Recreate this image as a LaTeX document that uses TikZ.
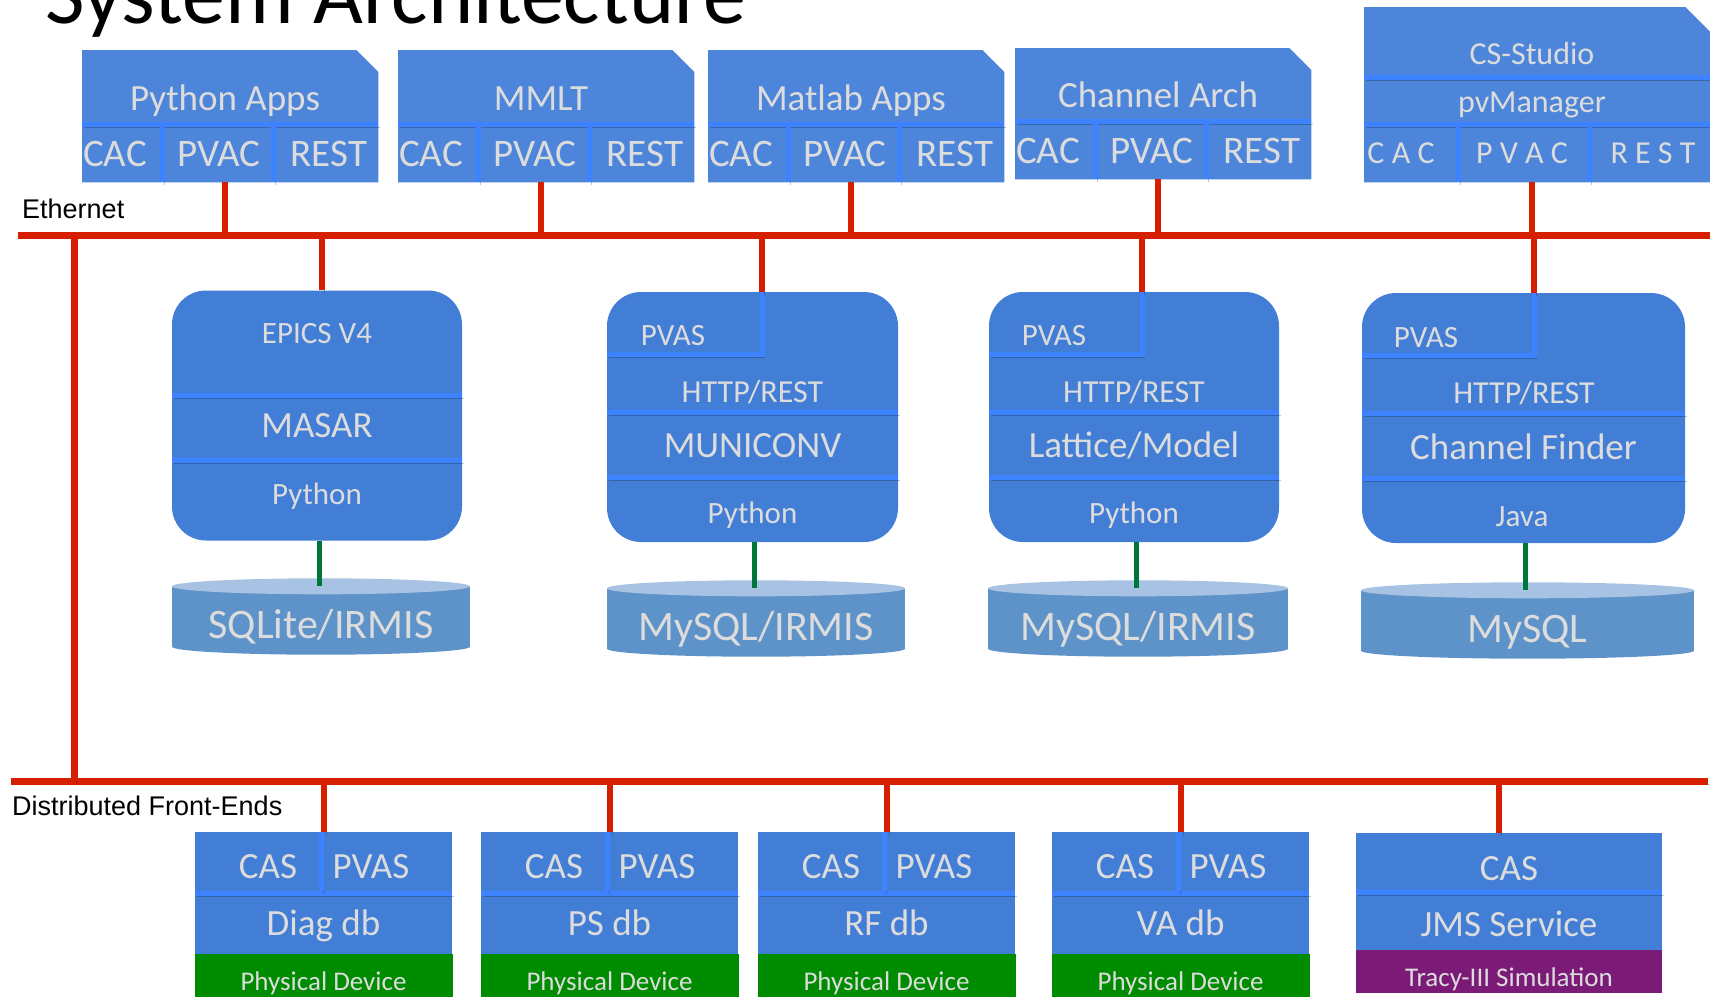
\documentclass[tikz,border=0pt]{standalone}
\usepackage{fontspec}
\setmainfont{Carlito}
\newfontfamily\arialfont{Liberation Sans}
\usetikzlibrary{positioning}

\definecolor{appblue}{HTML}{4C85DA}
\definecolor{boxblue}{HTML}{427ED6}
\definecolor{sepblue}{HTML}{3D82FF}
\definecolor{txtgray}{HTML}{DCDCDC}
\definecolor{busred}{HTML}{D61F00}
\definecolor{linkgreen}{HTML}{00773A}
\definecolor{devgreen}{HTML}{008C00}
\definecolor{simpurple}{HTML}{7B1B77}
\definecolor{dbblue}{HTML}{5E93C9}
\definecolor{dbtop}{HTML}{A7C2E2}

\begin{document}
\begin{tikzpicture}[x=1pt, y=-1pt,
  lbl/.style={text=txtgray, inner sep=0pt, anchor=base, font=\fontsize{#1}{#1}\selectfont},
  shd/.style={preaction={draw=black, draw opacity=.22, transform canvas={shift={(2pt,-3pt)}}}},
  bus/.style={draw=busred, line width=7pt, shd},
  drop/.style={bus, line width=6pt},
  sep/.style={draw=sepblue, line width=5pt, shd},
  link/.style={draw=linkgreen, line width=5pt},
  app/.style={inner sep=0pt, minimum width=296pt, anchor=north west},
  mid/.style={fill=boxblue, rounded corners=34pt, minimum width=290pt, minimum height=250pt, inner sep=0pt},
  fe/.style={fill=boxblue, minimum width=257pt, minimum height=122pt, anchor=north west, inner sep=0pt},
  db/.style={fill=dbblue, inner sep=0pt, minimum height=60pt},
  bar/.style={font=\arialfont\fontsize{27}{29}\selectfont, anchor=base west, inner sep=0pt}
]
\useasboundingbox (0,0) rectangle (1710,997);

% bus end points
\coordinate (eth) at (18,235);
\coordinate (eth-end) at (1712,235);
\coordinate (fe) at (11,781);
\coordinate (fe-end) at (1708,781);
\coordinate (trunk-top) at (74,235);
\coordinate (trunk-bot) at (74,781);

\node[anchor=base west, inner sep=0pt, font=\fontsize{86}{92}\selectfont] (title) at (45,23) {System Architecture};

% client applications
\foreach \L/\T/\B/\nm/\lab in {82/50/182/pyapps/Python Apps, 398/50/182/mmlt/MMLT,
    708/50/182/matlab/Matlab Apps, 1015/48/179/arch/Channel Arch} {
  \node[app, minimum height=\B-\T] (\nm) at (\L,\T) {};
  \fill[appblue] (\nm.north west) -- ([xshift=-22pt]\nm.north east) -- ([yshift=-22pt]\nm.north east)
    -- (\nm.south east) -- (\nm.south west) -- cycle;
  \draw[sep] (\L,\B-58) -- ++(296,0);
  \draw[sep] (\L+80,\B-56) -- (\L+80,\B);
  \draw[sep] (\L+191,\B-56) -- (\L+191,\B);
  \node[lbl=37] (\nm-title) at (\L+143,\B-72) {\lab};
  \node[lbl=39] (\nm-cac) at (\L+33,\B-16) {CAC};
  \node[lbl=39] (\nm-pvac) at (\L+137,\B-16) {PVAC};
  \node[lbl=39] (\nm-rest) at (\L+247,\B-16) {REST};
  \draw[drop] (\nm-title |- \nm.south) -- (\nm-title |- eth);
}

% CS-Studio
\node[app, minimum width=348pt, minimum height=175pt] (css) at (1364,7) {};
\fill[appblue] (css.north west) -- ([xshift=-27pt]css.north east) -- ([yshift=-27pt]css.north east)
  -- (css.south east) -- (css.south west) -- cycle;
\draw[sep] (1364,77) -- (1712,77);
\draw[sep] (1364,124) -- (1712,124);
\draw[sep] (1458,126) -- (1458,182);
\draw[sep] (1589,126) -- (1589,182);
\node[lbl=32] (css-title) at (1532,64) {CS-Studio};
\node[lbl=32] (css-pvm) at (1532,112) {pvManager};
\node[lbl=32] (css-cac) at (1401,163) {C A C};
\node[lbl=32] (css-pvac) at (1522,163) {P V A C};
\node[lbl=32] (css-rest) at (1653,163) {R E S T};
\draw[drop] (css-title |- css.south) -- (css-title |- eth);

% services
\node[mid] (masar) at (317,415.5) {};
\node[mid, minimum width=291pt] (municonv) at (752.5,417) {};
\node[mid] (lattice) at (1134,417) {};
\node[mid, minimum width=323pt] (finder) at (1523.5,418) {};

\draw[sep] (172,395) -- (462,395);
\draw[sep] (172,460) -- (462,460);
\node[lbl=31] (masar-v4) at (317,343) {EPICS V4};
\node[lbl=37] (masar-name) at (317,437) {MASAR};
\node[lbl=31] (masar-lang) at (317,504) {Python};

\coordinate (municonv-pv) at (762,292);
\draw[sep] (607,354) -| (municonv-pv);
\draw[sep] (607,412) -- (898,412);
\draw[sep] (607,477) -- (898,477);
\node[lbl=31] (municonv-pvas) at (673,345) {PVAS};
\node[lbl=32] (municonv-http) at (752.5,402) {HTTP/REST};
\node[lbl=37] (municonv-name) at (752.5,457) {MUNICONV};
\node[lbl=31] (municonv-lang) at (752.5,523) {Python};

\coordinate (lattice-pv) at (1142,292);
\draw[sep] (989,354) -| (lattice-pv);
\draw[sep] (989,412) -- (1279,412);
\draw[sep] (989,477) -- (1279,477);
\node[lbl=31] (lattice-pvas) at (1054,345) {PVAS};
\node[lbl=32] (lattice-http) at (1134,402) {HTTP/REST};
\node[lbl=37] (lattice-name) at (1134,457) {Lattice/Model};
\node[lbl=31] (lattice-lang) at (1134,523) {Python};

\coordinate (finder-pv) at (1534,293);
\draw[sep] (1362,355) -| (finder-pv);
\draw[sep] (1362,413) -- (1685,413);
\draw[sep] (1362,478) -- (1685,478);
\node[lbl=31] (finder-pvas) at (1426,347) {PVAS};
\node[lbl=32] (finder-http) at (1524,403) {HTTP/REST};
\node[lbl=37] (finder-name) at (1523.5,459) {Channel Finder};
\node[lbl=31] (finder-lang) at (1522,526) {Java};

\draw[drop] ([xshift=5pt]masar.north) -- ([xshift=5pt]masar.north |- eth);
\draw[drop] (municonv-pv) -- (municonv-pv |- eth);
\draw[drop] (lattice-pv) -- (lattice-pv |- eth);
\draw[drop] (finder-pv) -- (finder-pv |- eth);

% databases
\foreach \nm/\cx/\cy/\w/\lab/\svc in {sqlite/321/616.5/298/SQLite\slash IRMIS/masar,
    municonvdb/756/618.5/298/MySQL\slash IRMIS/municonv,
    latticedb/1138/618.5/300/MySQL\slash IRMIS/lattice,
    mysql/1527.5/620.5/333/MySQL/finder} {
  \node[db, minimum width=\w pt] (\nm) at (\cx,\cy) {};
  \fill[dbblue] (\nm.south) ellipse [x radius=\w/2, y radius=8];
  \fill[dbtop] (\nm.north) ellipse [x radius=\w/2, y radius=8];
  \node[lbl=42] (\nm-lbl) at (\cx,\cy+22) {\lab};
  \draw[link] ([xshift=2pt]\svc.south) -- ([xshift=2pt]\svc.south |- \nm.north);
}

% front-ends
\foreach \L/\nm/\lab in {195/diag/Diag db, 481/ps/PS db, 758/rf/RF db, 1052/va/VA db} {
  \node[fe] (\nm) at (\L,832) {};
  \fill[devgreen] (\nm.south west) rectangle ++(258,43);
  \draw[sep] (\L,893) -- ++(257,0);
  \draw[sep] (\L+126,832) -- (\L+126,891);
  \node[lbl=37] (\nm-cas) at (\L+73,878) {CAS};
  \node[lbl=37] (\nm-pvas) at (\L+176,878) {PVAS};
  \node[lbl=37] (\nm-name) at (\L+128.5,935) {\lab};
  \node[lbl=27] (\nm-dev) at (\L+128.5,990) {Physical Device};
  \draw[drop] (\nm.north) -- (\nm.north |- fe);
}

\node[fe, minimum width=306pt, minimum height=117pt] (jms) at (1356,833) {};
\fill[simpurple] (jms.south west) rectangle ++(306,43);
\draw[sep] (1356,892) -- (1662,892);
\node[lbl=37] (jms-cas) at (1509,880) {CAS};
\node[lbl=37] (jms-name) at (1509,936) {JMS Service};
\node[lbl=27] (jms-sim) at (1509,986) {Tracy-III Simulation};
\draw[drop] ([xshift=-10pt]jms.north) -- ([xshift=-10pt]jms.north |- fe);

% networks
\draw[bus] (eth) -- (eth-end);
\draw[bus] (fe) -- (fe-end);
\draw[bus] (trunk-top) -- (trunk-bot);
\node[bar] (eth-lbl) at (22,218) {Ethernet};
\node[bar] (fe-lbl) at (12,815) {Distributed Front-Ends};
\end{tikzpicture}
\end{document}
